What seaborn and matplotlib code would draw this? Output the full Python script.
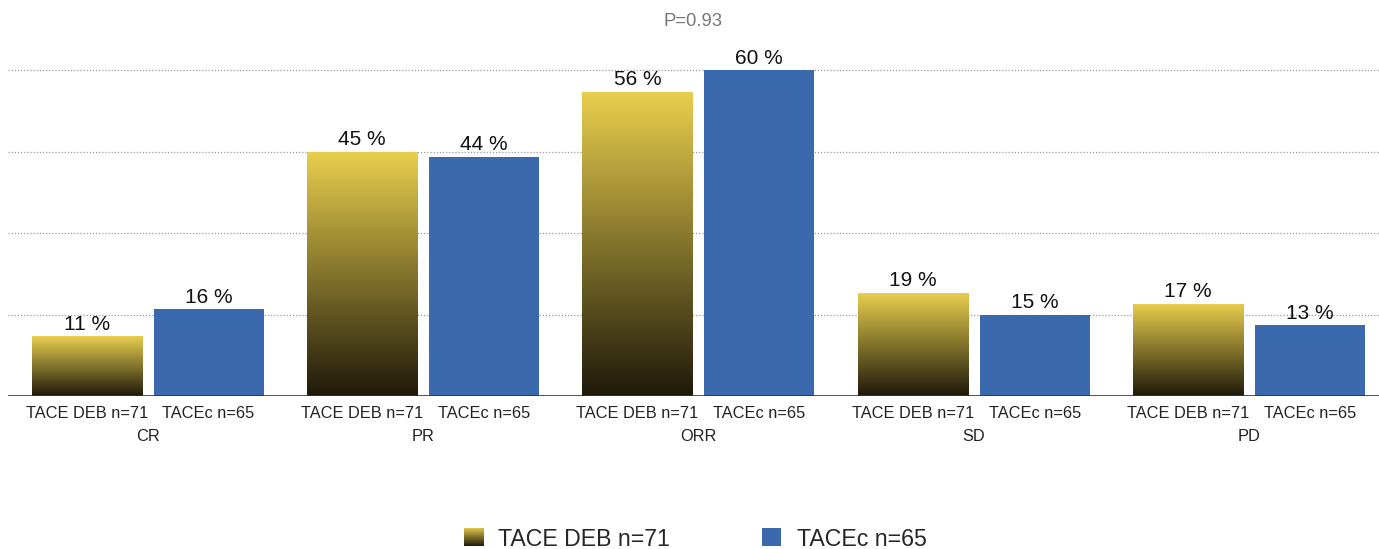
import numpy as np
import pandas as pd
import matplotlib
matplotlib.use("Agg")
import matplotlib.pyplot as plt
import seaborn as sns
from matplotlib.colors import LinearSegmentedColormap
from matplotlib.patches import Patch

# data
categories = ["CR", "PR", "ORR", "SD", "PD"]
groups = ["TACE DEB n=71", "TACEc n=65"]
deb_values = [11, 45, 56, 19, 17]
tacec_values = [16, 44, 60, 15, 13]
p_text = "P=0.93"
grid_ticks = [15, 30, 45, 60]

df = pd.DataFrame({
    "cat": categories * 2,
    "val": deb_values + tacec_values,
    "group": [groups[0]] * 5 + [groups[1]] * 5,
})

sns.set_style("white")
plt.rcParams["font.family"] = ["Liberation Sans", "DejaVu Sans"]

blue = "#3B69AD"
yellow_top = "#E9CF4E"
dark_bot = "#1E190A"
grad_cmap = LinearSegmentedColormap.from_list("deb", [dark_bot, yellow_top])

fig = plt.figure(figsize=(13.79, 5.49), dpi=100)
ax = fig.add_axes([8 / 1379, 1 - 396 / 549, 1371 / 1379, 396 / 549])

sns.barplot(data=df, x="cat", y="val", hue="group", palette=[yellow_top, blue],
            width=0.886, gap=0.098, ax=ax, legend=False, saturation=1)

ymax = 60 * 396 / 326
grad = np.linspace(0, 1, 256).reshape(-1, 1)
n = len(categories)
bars = ax.patches
for i, bar in enumerate(bars):
    x0 = bar.get_x()
    w = bar.get_width()
    h = bar.get_height()
    bar.set_edgecolor("none")
    if i < n:
        bar.set_facecolor("none")
        im = ax.imshow(grad, extent=[x0, x0 + w, 0, h], origin="lower",
                       aspect="auto", cmap=grad_cmap, zorder=2)
        im.set_clip_path(bar)
    ax.text(x0 + w / 2, h + 0.45, f"{h:.0f} %", ha="center", va="bottom",
            fontsize=15, color="#111111", zorder=4)
    # sub-label under each bar
    ax.annotate(groups[0] if i < n else groups[1], xy=(x0 + w / 2, 0),
                xycoords=("data", "axes fraction"), xytext=(0, -12.5),
                textcoords="offset points", ha="center", va="center",
                fontsize=11.8, color="#222222")

for j, cat in enumerate(categories):
    ax.annotate(cat, xy=(j, 0), xycoords=("data", "axes fraction"),
                xytext=(0, -29), textcoords="offset points",
                ha="center", va="center", fontsize=11.8, color="#222222")

ax.set_xlim(-0.507, n - 0.528)
ax.set_ylim(0, ymax)
for t in grid_ticks:
    ax.axhline(t, color="#9a9a9a", lw=0.9, ls=(0, (1, 1.5)), zorder=0)
ax.axhline(0, color="#333333", lw=1.2, zorder=5)

ax.set_xticks([])
ax.set_yticks([])
ax.set_xlabel("")
ax.set_ylabel("")
for s in ax.spines.values():
    s.set_visible(False)

ax.text(0.5, 1 - 21 / 396, p_text, transform=ax.transAxes, ha="center",
        va="center", fontsize=13.3, color="#777777")

handles = [Patch(facecolor="#8a7a30", edgecolor="none"),
           Patch(facecolor=blue, edgecolor="none")]
leg = fig.legend(handles, groups, loc="center", bbox_to_anchor=(0.504, 1 - 539 / 549),
                 ncol=2, frameon=False, fontsize=16.7, handlelength=0.82,
                 handleheight=0.82, columnspacing=4.0, handletextpad=0.65)

# gradient swatch over the first legend handle
fig.canvas.draw()
bb = leg.legend_handles[0].get_window_extent().transformed(fig.transFigure.inverted())
sw = fig.add_axes([bb.x0, bb.y0, bb.width, bb.height], zorder=10)
sw.imshow(grad, origin="lower", aspect="auto", cmap=grad_cmap)
sw.axis("off")

fig.savefig("out.png", dpi=100)
